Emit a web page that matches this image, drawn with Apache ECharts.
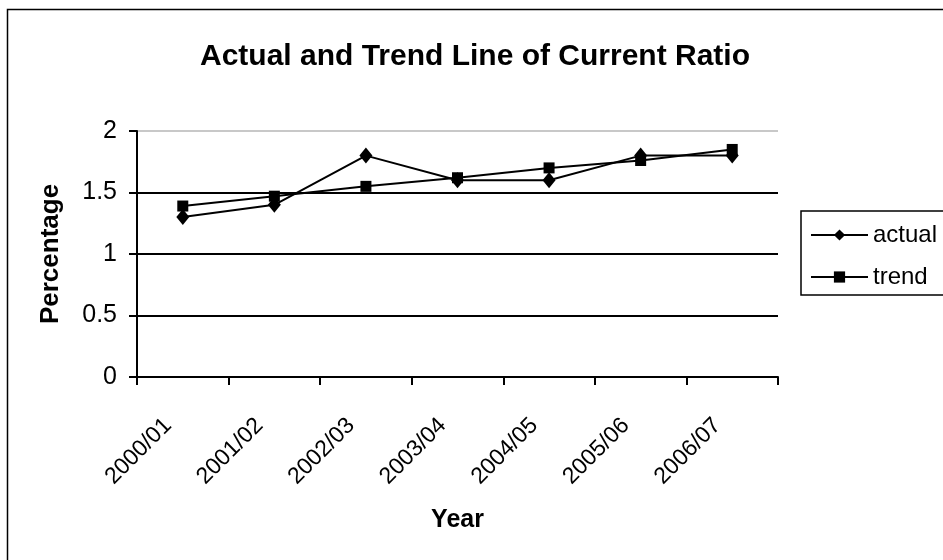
<!DOCTYPE html>
<html>
<head>
<meta charset="utf-8">
<script src="https://cdn.jsdelivr.net/npm/echarts@6/dist/echarts.min.js"></script>
<style>
  html, body { margin: 0; padding: 0; background: #fff; }
  #chart { width: 943px; height: 560px; }
</style>
</head>
<body>
<div id="chart"></div>
<script>
// Fiscal years on the category axis
const years = ['2000/01', '2001/02', '2002/03', '2003/04', '2004/05', '2005/06', '2006/07'];
// Observed current ratio
const actual = [1.3, 1.4, 1.8, 1.6, 1.6, 1.8, 1.8];
// Fitted trend line
const trend = [1.39, 1.47, 1.55, 1.62, 1.70, 1.76, 1.85];
// Value axis ticks
const yTicks = [0, 0.5, 1, 1.5, 2];

const FONT = '"Liberation Sans", Arial, sans-serif';

const chart = echarts.init(document.getElementById('chart'), null, { renderer: 'canvas' });

chart.setOption({
  backgroundColor: '#fff',
  animation: false,
  graphic: [{
    type: 'rect',
    left: 5, top: 7,
    shape: { x: 0, y: 0, width: 960, height: 580 },
    style: { fill: 'none', stroke: '#000', lineWidth: 1.5 },
    silent: true, z: -1
  }],
  title: {
    text: 'Actual and Trend Line of Current Ratio',
    left: 470, top: 37, textAlign: 'center',
    textStyle: { fontFamily: FONT, fontSize: 30, fontWeight: 'bold', color: '#000' }
  },
  legend: {
    orient: 'vertical',
    left: 801, top: 211,
    width: 160,
    padding: [12, 60, 6, 9],
    itemGap: 18,
    itemWidth: 57, itemHeight: 14,
    borderColor: '#000', borderWidth: 1.5,
    textStyle: { fontFamily: FONT, fontSize: 24, color: '#000' },
    data: ['actual', 'trend']
  },
  grid: { left: 137, right: 165, top: 131, bottom: 183 },
  xAxis: {
    type: 'category',
    data: years,
    boundaryGap: true,
    name: 'Year',
    nameLocation: 'middle',
    nameGap: 131,
    nameTextStyle: { fontFamily: FONT, fontSize: 25, fontWeight: 'bold', color: '#000' },
    axisLine: { lineStyle: { color: '#000', width: 2 } },
    axisTick: { show: true, length: 8, alignWithLabel: false, lineStyle: { color: '#000', width: 2 } },
    axisLabel: { rotate: 45, fontFamily: FONT, fontSize: 23, color: '#000', margin: 30, padding: [0, 21, 0, 0] }
  },
  yAxis: {
    type: 'value',
    min: yTicks[0], max: yTicks[yTicks.length - 1], interval: 0.5,
    name: 'Percentage',
    nameLocation: 'middle',
    nameGap: 73,
    nameTextStyle: { fontFamily: FONT, fontSize: 26, fontWeight: 'bold', color: '#000' },
    axisLine: { show: true, lineStyle: { color: '#000', width: 2 } },
    axisTick: { show: true, length: 8, lineStyle: { color: '#000', width: 2 } },
    axisLabel: { fontFamily: FONT, fontSize: 25, color: '#000', margin: 20 },
    splitLine: { show: true, lineStyle: { color: ['#000', '#000', '#000', '#000', '#c8c8c8'], width: 2 } }
  },
  series: [
    {
      name: 'actual', type: 'line', data: actual,
      symbol: 'diamond', symbolSize: [13, 16],
      lineStyle: { color: '#000', width: 2 },
      itemStyle: { color: '#000' },
      z: 3
    },
    {
      name: 'trend', type: 'line', data: trend,
      symbol: 'rect', symbolSize: 11,
      lineStyle: { color: '#000', width: 2 },
      itemStyle: { color: '#000' },
      z: 2
    }
  ]
});
</script>
</body>
</html>
